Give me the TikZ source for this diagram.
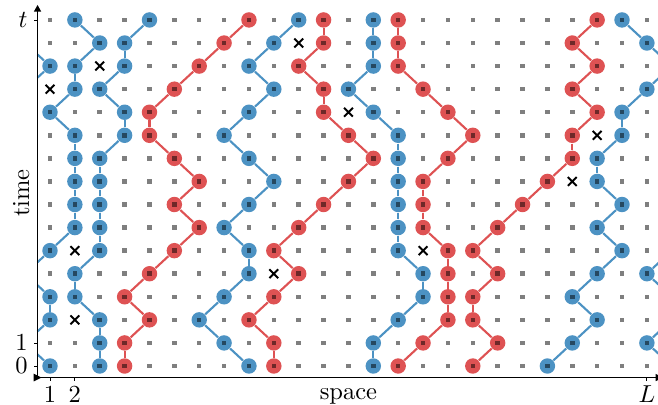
\documentclass[tikz,border=0pt]{standalone}
\usepackage{tikz}
\usetikzlibrary{calc, shapes.misc}
\definecolor{tabblue}{RGB}{31,119,180}
\definecolor{tabred}{RGB}{214,39,40}
\pgfdeclarelayer{lines}
\pgfsetlayers{lines,main}
\def\xlist{11/14,3/13,1/12,13/11,23/10,22/8,2/5,16/5,10/4,2/2}

\begin{document}
\begin{tikzpicture}[x=10.147pt, y=9.413pt,
  part/.style={circle, fill=#1, fill opacity=0.8, inner sep=0pt, minimum size=6.3pt},
  wline/.style={draw=#1, draw opacity=0.8, line width=0.86pt},
  site/.style={rectangle, fill=black, fill opacity=0.5, inner sep=0pt, minimum size=1.85pt},
  cross/.style={cross out, draw=black, line width=0.8pt, inner sep=0pt, minimum size=2.8pt},
  axis/.style={draw=black, line width=0.45pt},
  tick/.style={draw=black, line width=0.35pt},
  ticklab/.style={inner sep=0pt}]
  \useasboundingbox (-1.0104,-1.647) rectangle (25.447,15.865);

  % world lines, columns listed from row 15 down to row 0
  \foreach \wl/\clr/\cols in {
      B1/tabblue/{2,3,2,2,1,2,2,2,2,2,1,25,1,1,25,1},
      B2/tabblue/{5,4,4,3,4,4,3,3,3,3,3,2,2,3,3,3},
      B3/tabblue/{11,10,9,10,9,8,9,10,9,8,9,9,8,7,8,9},
      B4/tabblue/{14,14,14,13,14,15,15,15,15,15,15,16,16,15,14,14},
      B5/tabblue/{24,25,1,25,24,24,23,23,24,23,24,23,22,23,22,21},
      R1/tabred/{9,8,7,6,5,5,6,7,6,7,6,5,4,5,4,4},
      R2/tabred/{12,12,11,12,12,13,14,13,12,11,10,11,10,9,10,10},
      R3/tabred/{15,15,15,16,17,18,17,16,16,16,17,17,17,17,16,15},
      R4/tabred/{23,22,23,22,23,22,22,21,20,19,18,19,18,18,19,18}} {
    \foreach \c [count=\i, remember=\c as \pc (initially 0)] in \cols {
      \pgfmathtruncatemacro\r{16-\i}
      \pgfmathtruncatemacro\pr{\r+1}
      \node[part=\clr] (\wl-\r) at (\c,\r) {};
      \ifnum\i>1
        \pgfmathtruncatemacro\dc{\c-\pc}
        \begin{pgfonlayer}{lines}
        \ifnum\dc>1
          \coordinate (\wl-\r-a) at (0.5,\r+0.5);
          \coordinate (\wl-\r-b) at (25.5,\r+0.5);
          \draw[wline=\clr] (\wl-\pr) -- (\wl-\r-a);
          \draw[wline=\clr] (\wl-\r-b) -- (\wl-\r);
        \else\ifnum\dc<-1
          \coordinate (\wl-\r-a) at (25.5,\r+0.5);
          \coordinate (\wl-\r-b) at (0.5,\r+0.5);
          \draw[wline=\clr] (\wl-\pr) -- (\wl-\r-a);
          \draw[wline=\clr] (\wl-\r-b) -- (\wl-\r);
        \else
          \draw[wline=\clr] (\wl-\pr) -- (\wl-\r);
        \fi\fi
        \end{pgfonlayer}
      \fi
    }
  }

  % lattice sites and crosses
  \foreach \x/\y in \xlist {\expandafter\gdef\csname xm-\x-\y\endcsname{}}
  \foreach \x in {1,...,25} {
    \foreach \y in {0,...,15} {
      \ifcsname xm-\x-\y\endcsname\else
        \node[site] (s-\x-\y) at (\x,\y) {};
      \fi
    }
  }
  \foreach \x/\y in \xlist {
    \node[cross] (x-\x-\y) at (\x,\y) {};
  }

  % axes
  \coordinate (o) at (0.5,-0.5);
  \coordinate (ytop) at (0.5,15.5);
  \coordinate (xend) at (25.5,-0.5);
  \draw[axis] (o) -- (ytop);
  \draw[axis] (o) -- (xend);
  \fill ($(ytop)+(0,1.4pt)$) -- ($(ytop)+(1.5pt,-1.3pt)$) -- ($(ytop)+(-1.5pt,-1.3pt)$) -- cycle;
  \fill ($(xend)+(1.5pt,0)$) -- ($(xend)+(-1.5pt,1.5pt)$) -- ($(xend)+(-1.5pt,-1.5pt)$) -- cycle;
  \fill ($(o)+(1.6pt,0)$) -- ($(o)+(-1.6pt,1.6pt)$) -- ($(o)+(-1.6pt,-1.6pt)$) -- cycle;

  \foreach \r/\lab in {0/0, 1/1, 15/t} {
    \draw[tick] (0.5,\r) -- ++(-1.4pt,0);
    \node[ticklab, anchor=east, xshift=-3.9pt] (ylab-\r) at (0.5,\r) {$\lab$};
  }
  \foreach \c/\lab in {1/1, 2/2, 25/L} {
    \draw[tick] (\c,-0.5) -- ++(0,-1.4pt);
    \node[ticklab, anchor=base] (xlab-\c) at (\c,-1.595) {$\lab$};
  }

  \node[ticklab, anchor=base] (spacelab) at (13,-1.43) {space};
  \node[ticklab, anchor=base, rotate=90] (timelab) at (0.156,7.5) {time};
\end{tikzpicture}
\end{document}
